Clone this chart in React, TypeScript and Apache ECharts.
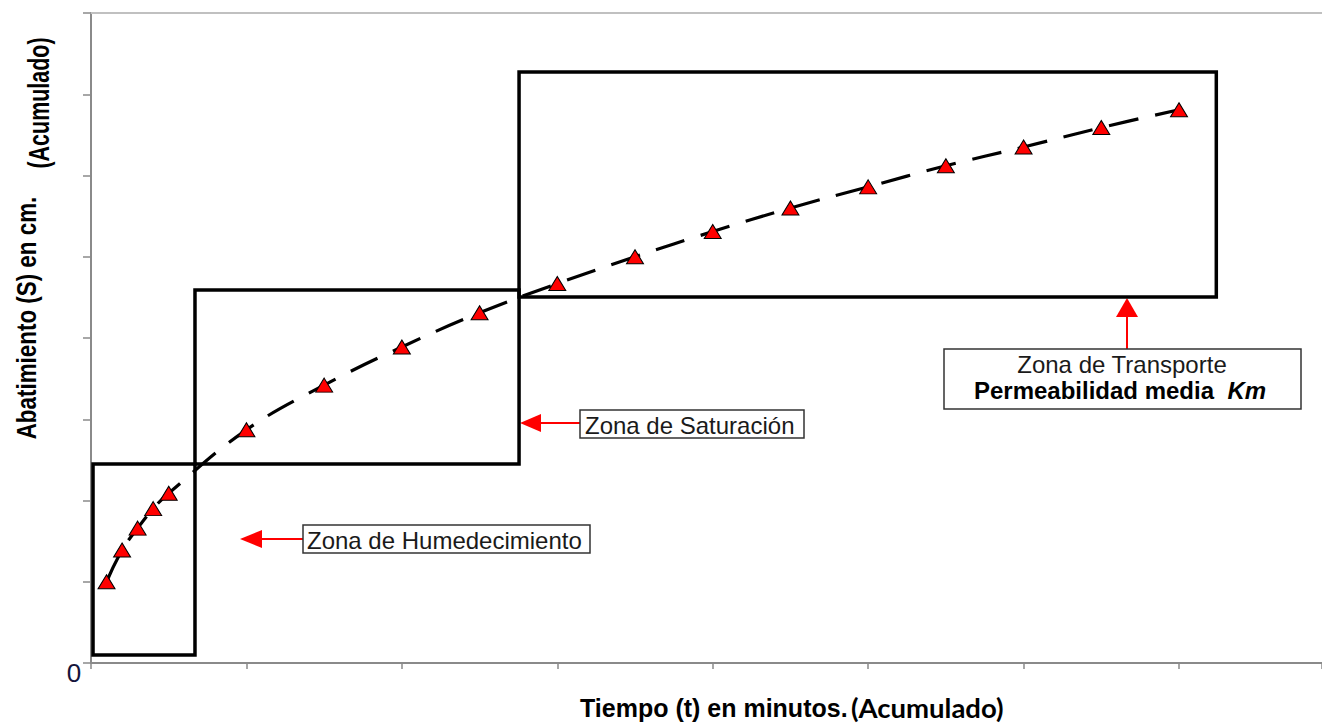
import React, { useEffect, useRef } from "react";
import * as echarts from "echarts";

// Tiempo (t) acumulado, en unidades del eje
const tiempo = [0.1, 0.2, 0.3, 0.4, 0.5, 1.0, 1.5, 2.0, 2.5, 3.0, 3.5, 4.0, 4.5, 5.0, 5.5, 6.0, 6.5, 7.0];
// Abatimiento (S) acumulado
const abatimiento = [1.0, 1.39, 1.66, 1.9, 2.09, 2.87, 3.42, 3.89, 4.31, 4.67, 5.0, 5.31, 5.6, 5.86, 6.12, 6.35, 6.59, 6.81];

// Zonas: [x1, y1, x2, y2]
const zonaNames = ["Zona de Humedecimiento", "Zona de Saturación", "Zona de Transporte"];
const zonaX1 = [0.013, 0.669, 2.754];
const zonaX2 = [0.669, 2.754, 7.24];
const zonaY1 = [0.1, 2.45, 4.505];
const zonaY2 = [2.45, 4.59, 7.274];

const X_MAX = 7.92;
const Y_MAX = 8;

const SANS = "'Liberation Sans', Arial, sans-serif";

export default function App() {
  const ref = useRef<HTMLDivElement>(null);

  useEffect(() => {
    if (!ref.current) return;
    const chart = echarts.init(ref.current, undefined, { renderer: "svg" });
    const pts = tiempo.map((t, i) => [t, abatimiento[i]]);
    const areas = zonaNames.map((n, i) => [
      { name: n, coord: [zonaX1[i], zonaY1[i]] },
      { coord: [zonaX2[i], zonaY2[i]] },
    ]);

    const red = "#ff0000";
    const option: any = {
      animation: false,
      backgroundColor: "#ffffff",
      grid: { left: 91, right: 0, top: 13, bottom: 60, containLabel: false },
      xAxis: [
        {
          type: "value",
          min: 0,
          max: X_MAX,
          interval: 1,
          axisLine: { show: true, lineStyle: { color: "#8a8a8a", width: 2 } },
          axisTick: { show: true, length: 6, lineStyle: { color: "#8a8a8a", width: 1.5 } },
          axisLabel: { show: false },
          splitLine: { show: false },
        },
        {
          type: "value",
          position: "top",
          min: 0,
          max: X_MAX,
          axisLine: { show: true, onZero: false, lineStyle: { color: "#c0c0c0", width: 2 } },
          axisTick: { show: false },
          axisLabel: { show: false },
          splitLine: { show: false },
        },
      ],
      yAxis: {
        type: "value",
        min: 0,
        max: Y_MAX,
        interval: 1,
        axisLine: { show: true, lineStyle: { color: "#8a8a8a", width: 2 } },
        axisTick: { show: true, length: 8, lineStyle: { color: "#8a8a8a", width: 1.5 } },
        axisLabel: { show: false },
        splitLine: { show: false },
      },
      series: [
        {
          type: "line",
          data: pts,
          smooth: 0.4,
          showSymbol: false,
          silent: true,
          lineStyle: { color: "#000000", width: 3.2, type: [30, 17] },
          z: 3,
          markArea: {
            silent: true,
            itemStyle: { color: "rgba(0,0,0,0)", borderColor: "#000000", borderWidth: 3.5 },
            label: { show: false },
            data: areas,
          },
        },
        {
          type: "scatter",
          data: pts,
          symbol: "triangle",
          symbolSize: [17, 14],
          itemStyle: { color: red, borderColor: "#000000", borderWidth: 1, opacity: 1 },
          z: 4,
        },
      ],
      graphic: [
        // origin label
        {
          type: "text",
          x: 74,
          y: 673,
          style: {
            text: "0",
            fontSize: 26,
            fontFamily: "Liberation Sans",
            fill: "#14143a",
            align: "center",
            verticalAlign: "middle",
          },
        },
        // Y axis title
        {
          type: "text",
          x: 26,
          y: 318,
          rotation: Math.PI / 2,
          scaleX: 0.8,
          style: {
            text: "Abatimiento (S) en cm.",
            font: `bold 28px ${SANS}`,
            fill: "#000",
            align: "center",
            verticalAlign: "middle",
          },
        },
        {
          type: "text",
          x: 39,
          y: 103,
          rotation: Math.PI / 2,
          scaleX: 0.74,
          style: {
            text: "(Acumulado)",
            font: `bold 29px ${SANS}`,
            fill: "#000",
            align: "center",
            verticalAlign: "middle",
          },
        },
        // X axis title
        {
          type: "text",
          x: 580,
          y: 708,
          style: {
            text: "Tiempo (t) en minutos.",
            font: `bold 25px ${SANS}`,
            fill: "#000",
            align: "left",
            verticalAlign: "middle",
          },
        },
        {
          type: "text",
          x: 851,
          y: 707,
          style: {
            text: "(Acumulado)",
            font: `bold 27.5px Lato, 'Open Sans', sans-serif`,
            fill: "#000",
            align: "left",
            verticalAlign: "middle",
          },
        },
        // Humedecimiento callout
        {
          type: "line",
          shape: { x1: 303, y1: 539, x2: 258, y2: 539 },
          style: { stroke: red, lineWidth: 2 },
        },
        {
          type: "polygon",
          shape: { points: [[240, 539], [262, 530], [262, 548]] },
          style: { fill: red },
        },
        {
          type: "rect",
          shape: { x: 303, y: 525, width: 287, height: 28 },
          style: { fill: "#fff", stroke: "#333", lineWidth: 1.5 },
        },
        {
          type: "text",
          x: 307,
          y: 540,
          style: {
            text: zonaNames[0],
            font: `24px ${SANS}`,
            fill: "#1a1a1a",
            align: "left",
            verticalAlign: "middle",
          },
        },
        // Saturacion callout
        {
          type: "line",
          shape: { x1: 580, y1: 423, x2: 535, y2: 423 },
          style: { stroke: red, lineWidth: 2 },
        },
        {
          type: "polygon",
          shape: { points: [[520, 423], [541, 414], [541, 432]] },
          style: { fill: red },
        },
        {
          type: "rect",
          shape: { x: 580, y: 410, width: 224, height: 28 },
          style: { fill: "#fff", stroke: "#333", lineWidth: 1.5 },
        },
        {
          type: "text",
          x: 585,
          y: 425,
          style: {
            text: zonaNames[1],
            font: `24px ${SANS}`,
            fill: "#1a1a1a",
            align: "left",
            verticalAlign: "middle",
          },
        },
        // Transporte callout
        {
          type: "line",
          shape: { x1: 1127, y1: 349, x2: 1127, y2: 312 },
          style: { stroke: red, lineWidth: 2 },
        },
        {
          type: "polygon",
          shape: { points: [[1127, 298], [1116, 317], [1138, 317]] },
          style: { fill: red },
        },
        {
          type: "rect",
          shape: { x: 944, y: 349, width: 357, height: 60 },
          style: { fill: "#fff", stroke: "#333", lineWidth: 1.5 },
        },
        {
          type: "text",
          x: 1122,
          y: 364,
          style: {
            text: zonaNames[2],
            font: `24px ${SANS}`,
            fill: "#1a1a1a",
            align: "center",
            verticalAlign: "middle",
          },
        },
        {
          type: "text",
          x: 1120,
          y: 390,
          style: {
            text: "{b|Permeabilidad media  }{bi|Km}",
            align: "center",
            verticalAlign: "middle",
            rich: {
              b: { font: `bold 24px ${SANS}`, fill: "#000" },
              bi: { font: `italic bold 24px ${SANS}`, fill: "#000" },
            },
          },
        },
      ],
    };
    chart.setOption(option);
    return () => chart.dispose();
  }, []);

  return (
    <div
      ref={ref}
      style={{ position: "fixed", left: 0, top: 0, width: 1322, height: 723, background: "#fff" }}
    />
  );
}
